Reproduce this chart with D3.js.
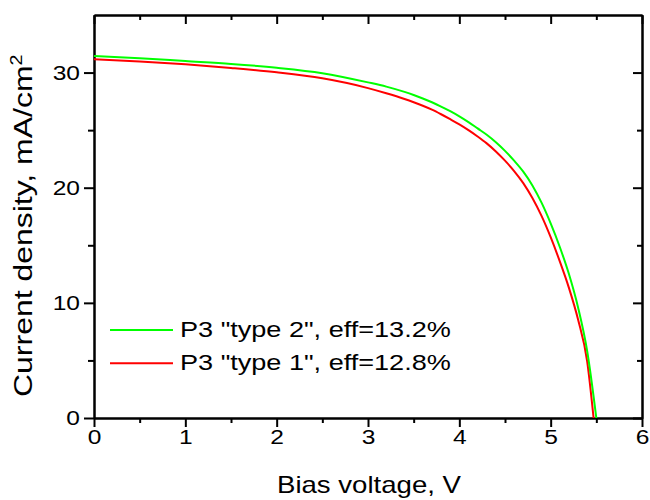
<!DOCTYPE html>
<html>
<head>
<meta charset="utf-8">
<script src="https://cdn.jsdelivr.net/npm/d3@7/dist/d3.min.js"></script>
<style>
  body { margin: 0; background: #fff; }
  text { font-family: "Liberation Sans", Arial, sans-serif; fill: #000; }
</style>
</head>
<body>
<div id="chart"></div>
<script>
// bias voltage (V) and current density (mA/cm2)
var voltType2 = [0, 0.5, 1, 1.5, 2, 2.5, 3, 3.2, 3.4, 3.5, 3.6, 3.7, 3.8, 3.9, 4, 4.1, 4.2, 4.3, 4.4, 4.5, 4.6, 4.7, 4.8, 4.9, 5, 5.1, 5.2, 5.3, 5.4, 5.5];
var currType2 = [31.43, 31.25, 31.0, 30.75, 30.42, 29.95, 29.15, 28.78, 28.32, 28.05, 27.75, 27.42, 27.05, 26.65, 26.2, 25.7, 25.15, 24.6, 23.95, 23.2, 22.35, 21.4, 20.2, 18.7, 16.9, 14.85, 12.5, 9.6, 5.8, 0];
var voltType1 = [0, 0.5, 1, 1.5, 2, 2.5, 3, 3.2, 3.4, 3.5, 3.6, 3.7, 3.8, 3.9, 4, 4.1, 4.2, 4.3, 4.4, 4.5, 4.6, 4.7, 4.8, 4.9, 5, 5.1, 5.2, 5.3, 5.4, 5.47];
var currType1 = [31.16, 30.97, 30.72, 30.4, 30.02, 29.5, 28.65, 28.2, 27.7, 27.42, 27.12, 26.78, 26.38, 25.95, 25.5, 25.0, 24.45, 23.85, 23.15, 22.35, 21.45, 20.4, 19.1, 17.55, 15.7, 13.6, 11.3, 8.55, 4.9, 0];

var seriesNames = ['P3 "type 2", eff=13.2%', 'P3 "type 1", eff=12.8%'];
var seriesColors = ["#00ff00", "#ff0000"];

var xTicks = [0, 1, 2, 3, 4, 5, 6];
var xMinor = [0.5, 1.5, 2.5, 3.5, 4.5, 5.5];
var yTicks = [0, 10, 20, 30];
var yMinor = [5, 15, 25];

var width = 650, height = 500;
var margin = {top: 15, right: 8, bottom: 82, left: 94};
var w = width - margin.left - margin.right;
var h = height - margin.top - margin.bottom;

// the text in the picture is a bit wider than plain Arial
var tickStretch = 1.17;

var x = d3.scaleLinear().domain([0, 6]).range([0, w]);
var y = d3.scaleLinear().domain([0, 35]).range([h, 0]);

var svg = d3.select("#chart").append("svg")
  .attr("width", width)
  .attr("height", height);

var g = svg.append("g")
  .attr("transform", "translate(" + margin.left + "," + margin.top + ")");

function styleAxis(sel) {
  sel.select(".domain").attr("stroke", "#000").attr("stroke-width", 2);
  sel.selectAll(".tick line").attr("stroke", "#000").attr("stroke-width", 2);
  sel.selectAll("text").style("font-size", "21px").attr("fill", "#000");
}

// bottom + left (ticks outward, labelled)
g.append("g").attr("transform", "translate(0," + h + ")")
  .call(d3.axisBottom(x).tickValues(xTicks).tickSize(9).tickSizeOuter(0).tickPadding(2).tickFormat(d3.format("d")))
  .call(styleAxis)
  .selectAll("text").attr("transform", "scale(" + tickStretch + ",1)");
g.append("g").attr("transform", "translate(0," + h + ")")
  .call(d3.axisBottom(x).tickValues(xMinor).tickSize(5).tickSizeOuter(0).tickFormat(""))
  .call(styleAxis);

g.append("g")
  .call(d3.axisLeft(y).tickValues(yTicks).tickSize(10).tickSizeOuter(0).tickPadding(4).tickFormat(d3.format("d")))
  .call(styleAxis)
  .selectAll("text")
  .attr("x", -14 / tickStretch)
  .attr("transform", "scale(" + tickStretch + ",1)");
g.append("g")
  .call(d3.axisLeft(y).tickValues(yMinor).tickSize(6).tickSizeOuter(0).tickFormat(""))
  .call(styleAxis);

// top + right (ticks inward, no labels)
g.append("g")
  .call(d3.axisTop(x).tickValues(xTicks).tickSize(-9).tickSizeOuter(0).tickFormat(""))
  .call(styleAxis);
g.append("g")
  .call(d3.axisTop(x).tickValues(xMinor).tickSize(-5).tickSizeOuter(0).tickFormat(""))
  .call(styleAxis);
g.append("g").attr("transform", "translate(" + w + ",0)")
  .call(d3.axisRight(y).tickValues(yTicks).tickSize(-9).tickSizeOuter(0).tickFormat(""))
  .call(styleAxis);
g.append("g").attr("transform", "translate(" + w + ",0)")
  .call(d3.axisRight(y).tickValues(yMinor).tickSize(-5).tickSizeOuter(0).tickFormat(""))
  .call(styleAxis);

// curves
var line = d3.line()
  .x(function (d) { return x(d[0]); })
  .y(function (d) { return y(d[1]); })
  .curve(d3.curveMonotoneX);

var series = [
  {data: d3.zip(voltType1, currType1), color: seriesColors[1]},
  {data: d3.zip(voltType2, currType2), color: seriesColors[0]}
];

g.selectAll(".curve")
  .data(series)
  .enter().append("path")
  .attr("class", "curve")
  .attr("d", function (d) { return line(d.data); })
  .attr("fill", "none")
  .attr("stroke", function (d) { return d.color; })
  .attr("stroke-width", 2);

// legend
var legend = svg.append("g").attr("transform", "translate(110,330)");
seriesNames.forEach(function (name, i) {
  var row = legend.append("g").attr("transform", "translate(0," + (i * 33.3) + ")");
  row.append("line")
    .attr("x1", 0).attr("x2", 63).attr("y1", 0).attr("y2", 0)
    .attr("stroke", seriesColors[i]).attr("stroke-width", 2);
  row.append("text")
    .attr("transform", "translate(70,6.5) scale(1.26,1)")
    .style("font-size", "21.5px")
    .text(name);
});

// axis titles
svg.append("text")
  .attr("transform", "translate(277,493) scale(1.2,1)")
  .style("font-size", "23px")
  .text("Bias voltage, V");

var yt = svg.append("text")
  .attr("transform", "translate(32,397) rotate(-90) scale(1.23,1)")
  .style("font-size", "26px");
yt.append("tspan").text("Current density, mA/cm");
yt.append("tspan").attr("dy", "-0.6em").style("font-size", "16px").text("2");
</script>
</body>
</html>
